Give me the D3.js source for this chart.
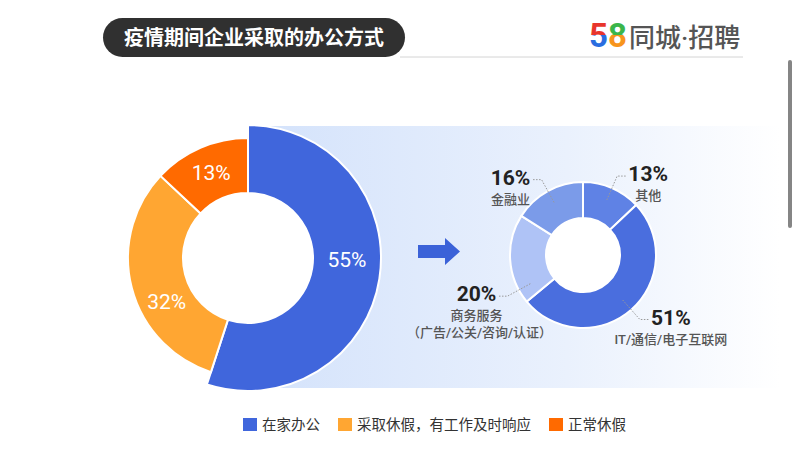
<!DOCTYPE html>
<html>
<head>
<meta charset="utf-8">
<script src="https://cdn.jsdelivr.net/npm/d3@7"></script>
<style>
  body { margin: 0; background: #fff; }
  text { font-family: Roboto, 'Noto Sans CJK SC', sans-serif; }
</style>
</head>
<body>
<svg class="chart" width="800" height="465"></svg>
<script>
// main split of office modes
const mainLabels = ['在家办公', '采取休假，有工作及时响应', '正常休假']
const mainValues = [55, 32, 13]
const mainColors = ['#4066dc', '#ffa632', '#ff6a00']

// breakdown of the "work from home" share by industry
const subLabels = ['其他', 'IT/通信/电子互联网', '商务服务', '金融业']
const subNotes = ['', '', '（广告/公关/咨询/认证）', '']
const subValues = [13, 51, 20, 16]
const subColors = ['#5f82e5', '#4a6ede', '#afc3f6', '#7b9be9']

const title = '疫情期间企业采取的办公方式'

const svg = d3.select('.chart')
const defs = svg.append('defs')

const bg = defs.append('linearGradient').attr('id', 'panel')
bg.append('stop').attr('offset', '0%').attr('stop-color', '#d3e2fb')
bg.append('stop').attr('offset', '60%').attr('stop-color', '#eaf1fd')
bg.append('stop').attr('offset', '100%').attr('stop-color', '#ffffff')

const g5 = defs.append('linearGradient').attr('id', 'g5').attr('x1', 0).attr('y1', 0).attr('x2', 0).attr('y2', 1)
g5.append('stop').attr('offset', '50%').attr('stop-color', '#e8352c')
g5.append('stop').attr('offset', '50%').attr('stop-color', '#2a6de0')
const g8 = defs.append('linearGradient').attr('id', 'g8').attr('x1', 0).attr('y1', 0).attr('x2', 0).attr('y2', 1)
g8.append('stop').attr('offset', '50%').attr('stop-color', '#3bb54a')
g8.append('stop').attr('offset', '50%').attr('stop-color', '#f7941d')

// header
svg.append('line')
  .attr('x1', 400).attr('x2', 743).attr('y1', 57).attr('y2', 57)
  .attr('stroke', '#d4d4d4').attr('stroke-width', 1)

svg.append('rect')
  .attr('x', 103).attr('y', 18).attr('width', 302).attr('height', 39)
  .attr('rx', 19.5).attr('fill', '#303030')
svg.append('text')
  .attr('x', 254).attr('y', 38).attr('dy', '.35em')
  .attr('text-anchor', 'middle')
  .attr('fill', '#fff').attr('font-size', 20).attr('font-weight', 700)
  .text(title)

const logo = svg.append('text').attr('x', 589).attr('y', 47)
logo.append('tspan').attr('font-size', 33).attr('font-weight', 700).attr('fill', 'url(#g5)').text('5')
logo.append('tspan').attr('font-size', 33).attr('font-weight', 700).attr('fill', 'url(#g8)').text('8')
logo.append('tspan').attr('font-size', 26).attr('font-weight', 500).attr('fill', '#555').attr('dx', 2).text('同城·招聘')

// scrollbar at the right edge
svg.append('rect')
  .attr('x', 788).attr('y', 60).attr('width', 4).attr('height', 168)
  .attr('rx', 2).attr('fill', '#858585')

// light panel behind the breakdown
const lc = { x: 248, y: 258 }
svg.append('rect')
  .attr('x', lc.x).attr('y', 126).attr('width', 532).attr('height', 262)
  .attr('fill', 'url(#panel)')

// left donut
const pie = d3.pie().sort(null).value(d => d)
const mainArcs = pie(mainValues)
const inner = 65
const outerOf = i => (i === 0 ? 133 : 120)
const labelShift = [-8, -14, 0] // degrees

const left = svg.append('g').attr('transform', `translate(${lc.x}, ${lc.y})`)
left.append('circle').attr('r', inner).attr('fill', '#fff')
left.selectAll('path')
  .data(mainArcs)
  .enter()
  .append('path')
  .attr('d', (d, i) => d3.arc().innerRadius(inner).outerRadius(outerOf(i))(d))
  .attr('fill', (d, i) => mainColors[i])
  .attr('stroke', '#fff')
  .attr('stroke-width', 2)

left.selectAll('.pct')
  .data(mainArcs)
  .enter()
  .append('text')
  .attr('class', 'pct')
  .attr('transform', function (d, i) {
    const a = (d.startAngle + d.endAngle) / 2 + labelShift[i] * Math.PI / 180
    const r = (inner + outerOf(i)) / 2
    return 'translate(' + (r * Math.sin(a)) + ',' + (-r * Math.cos(a)) + ')'
  })
  .attr('dy', '.35em')
  .attr('text-anchor', 'middle')
  .attr('fill', '#fff')
  .attr('font-size', 21)
  .text(d => d.data + '%')

// arrow
svg.append('path')
  .attr('d', 'M418,245 L445,245 L445,238 L460,251.5 L445,265 L445,258 L418,258 Z')
  .attr('fill', '#3b62d8')

// right donut
const rc = { x: 583, y: 255 }
const subArcs = pie(subValues)
const subArc = d3.arc().innerRadius(37).outerRadius(73)
const right = svg.append('g').attr('transform', `translate(${rc.x}, ${rc.y})`)

right.append('circle').attr('r', 37).attr('fill', '#fff')
right.selectAll('path')
  .data(subArcs)
  .enter()
  .append('path')
  .attr('d', subArc)
  .attr('fill', (d, i) => subColors[i])
  .attr('stroke', '#fff')
  .attr('stroke-width', 2)

const subShift = [0, 0, -25, 0] // degrees, keeps the long label clear
const polar = (a, r) => [r * Math.sin(a), -r * Math.cos(a)]

const lab = right.selectAll('.lab')
  .data(subArcs)
  .enter()
  .append('g')
  .attr('class', 'lab')

lab.each(function (d, i) {
  const gEl = d3.select(this)
  const a = (d.startAngle + d.endAngle) / 2 + subShift[i] * Math.PI / 180
  const side = Math.sin(a) >= 0 ? 1 : -1
  const p0 = polar(a, 60)
  const p1 = polar(a, 86)
  const p2 = [p1[0] + side * 10, p1[1]]
  gEl.append('polyline')
    .attr('points', [p0, p1, p2].map(p => p.join(',')).join(' '))
    .attr('fill', 'none')
    .attr('stroke', '#999')
    .attr('stroke-width', 1)
    .attr('stroke-dasharray', '1.5,1.5')

  const cx = p2[0] + side * 21
  const base = p2[1] + 5
  gEl.append('text')
    .attr('x', cx).attr('y', base)
    .attr('text-anchor', 'middle')
    .attr('fill', '#222')
    .attr('font-size', 21)
    .attr('font-weight', 700)
    .text(d.data + '%')
  gEl.append('text')
    .attr('x', cx).attr('y', base + 19)
    .attr('text-anchor', 'middle')
    .attr('fill', '#555')
    .attr('font-size', 13)
    .attr('font-weight', 500)
    .text(subLabels[i])
  if (subNotes[i]) {
    gEl.append('text')
      .attr('x', cx + 3).attr('y', base + 36)
      .attr('text-anchor', 'middle')
      .attr('fill', '#555')
      .attr('font-size', 13)
      .attr('font-weight', 500)
      .text(subNotes[i])
  }
})

// legend
const legend = svg.append('g').attr('class', 'legend-container')
let lx = 243
mainLabels.forEach(function (label, i) {
  const item = legend.append('g').attr('transform', `translate(${lx}, 418)`)
  item.append('rect')
    .attr('width', 14).attr('height', 13)
    .attr('fill', mainColors[i])
  const t = item.append('text')
    .attr('x', 19).attr('y', 7).attr('dy', '.35em')
    .attr('fill', '#333').attr('font-size', 14.5)
    .text(label)
  lx += 19 + t.node().getComputedTextLength() + 18
})
</script>
</body>
</html>
